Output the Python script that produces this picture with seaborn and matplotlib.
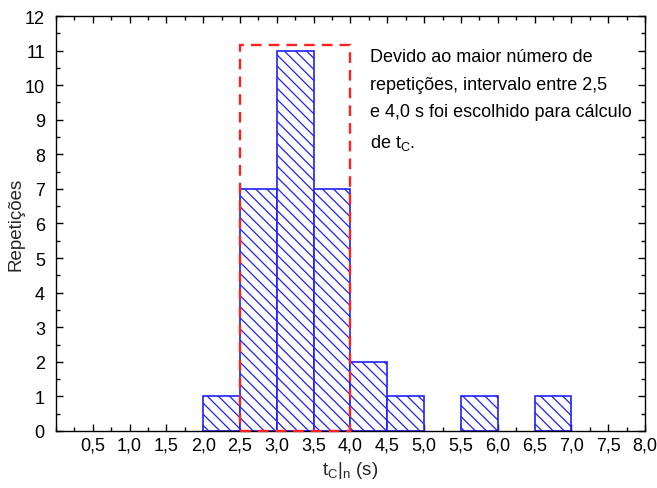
import numpy as np
import pandas as pd
import matplotlib
matplotlib.use("Agg")
import matplotlib.pyplot as plt
import seaborn as sns
from matplotlib.patches import Rectangle
from matplotlib.ticker import MultipleLocator, FixedLocator

# ---- data ----
bin_left = [2.0, 2.5, 3.0, 3.5, 4.0, 4.5, 5.5, 6.5]
counts = [1, 7, 11, 7, 2, 1, 1, 1]
bin_width = 0.5
interval_start = 2.5
interval_end = 4.0
box_top = 11.15
x_ticks = [0.5, 1.0, 1.5, 2.0, 2.5, 3.0, 3.5, 4.0, 4.5, 5.0, 5.5, 6.0, 6.5, 7.0, 7.5, 8.0]
x_tick_labels = ["0,5", "1,0", "1,5", "2,0", "2,5", "3,0", "3,5", "4,0",
                 "4,5", "5,0", "5,5", "6,0", "6,5", "7,0", "7,5", "8,0"]
y_ticks = list(range(0, 13))
note = ("Devido ao maior número de\nrepetições, intervalo entre 2,5\n"
        "e 4,0 s foi escolhido para cálculo\nde $\\mathrm{t_C}$.")

sns.set_style("ticks")
plt.rcParams['font.family'] = ['Liberation Sans', 'DejaVu Sans']
plt.rcParams['mathtext.fontset'] = 'custom'
plt.rcParams['mathtext.rm'] = 'Liberation Sans'
plt.rcParams['mathtext.it'] = 'Liberation Sans'
plt.rcParams['hatch.color'] = '#2020ff'
plt.rcParams['hatch.linewidth'] = 0.9

df = pd.DataFrame({"x": [b + bin_width / 2 for b in bin_left], "n": counts})
edges = [float(e) for e in np.arange(min(bin_left), max(bin_left) + bin_width + 1e-9, bin_width)]

fig = plt.figure(figsize=(6.57, 4.89), dpi=100)
ax = fig.add_axes([0.0852, 0.1166, 0.8965, 0.8486])

sns.histplot(data=df, x="x", weights="n", bins=edges, ax=ax,
             stat="count", element="bars", fill=True,
             color="white", edgecolor="#2020ff", linewidth=1.2, alpha=1)
for p in list(ax.patches):
    if p.get_height() == 0:
        p.remove()
    else:
        p.set_hatch("\\\\\\")
        p.set_facecolor("white")
        p.set_edgecolor("#2020ff")

ax.add_patch(Rectangle((interval_start, 0), interval_end - interval_start, box_top,
                       fill=False, edgecolor="#ff2020", linestyle=(0, (4.5, 3)),
                       linewidth=1.7, zorder=5, clip_on=False))

ax.text(4.27, 11.07, note, fontsize=13, va="top", ha="left",
        linespacing=1.8, color="black")

ax.set_xlim(0, 8)
ax.set_ylim(0, 12)
ax.xaxis.set_major_locator(FixedLocator(x_ticks))
ax.set_xticklabels(x_tick_labels)
ax.xaxis.set_minor_locator(MultipleLocator(0.25))
ax.set_yticks(y_ticks)
ax.yaxis.set_minor_locator(MultipleLocator(0.5))
ax.tick_params(which="both", direction="in", top=True, right=True,
               labelsize=13, colors="black", width=1)
ax.tick_params(which="major", length=5)
ax.tick_params(which="minor", length=3)
ax.tick_params(axis="x", which="major", pad=4)
ax.tick_params(axis="y", which="major", pad=8)
for s in ax.spines.values():
    s.set_visible(True)
    s.set_color("black")
    s.set_linewidth(1)

ax.set_xlabel(r"$\mathrm{t_C|_n}$ (s)", fontsize=13.5, labelpad=4)
ax.set_ylabel("Repetições", fontsize=13.5, labelpad=0)

fig.savefig("out.png", dpi=100)
